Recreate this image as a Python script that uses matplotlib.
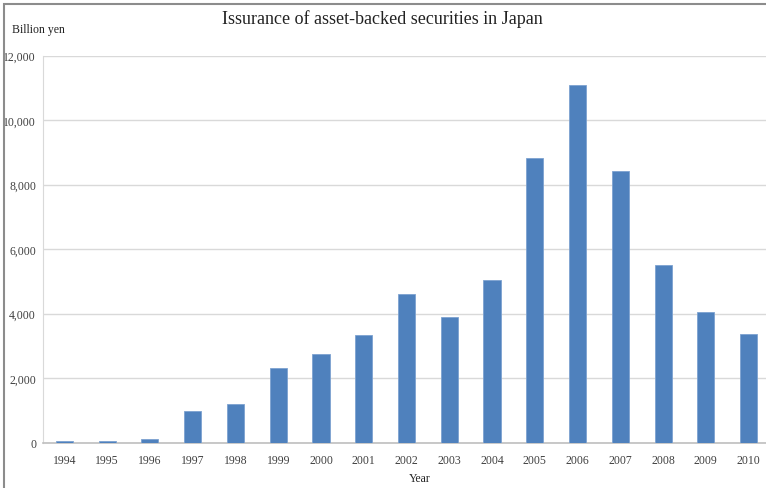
import matplotlib.pyplot as plt
from matplotlib.patches import Rectangle
from matplotlib.ticker import FuncFormatter

# data (billion yen)
years = [str(y) for y in range(1994, 2011)]
issuance = [35, 35, 110, 970, 1200, 2310, 2760, 3320, 4600,
            3880, 5050, 8830, 11090, 8420, 5510, 4060, 3380]

plt.rcParams['font.family'] = ['Liberation Serif', 'DejaVu Serif']

fig = plt.figure(figsize=(7.66, 4.89), dpi=100)
ax = fig.add_axes([43/766, 45.5/489, 727/766, 0.791])

x = range(len(years))
ax.bar(x, issuance, width=0.4, color='#4F81BD', edgecolor='#7DA2D0', linewidth=0.6, zorder=3)

ax.set_xlim(-0.5, len(years) - 0.5)
ax.set_ylim(0, 12000)
ax.set_yticks(range(0, 12001, 2000))
ax.yaxis.set_major_formatter(FuncFormatter(lambda v, p: f"{int(v):,}"))
ax.set_xticks(list(x))
ax.set_xticklabels(years)
ax.tick_params(axis='both', length=0, labelsize=8.5, colors='#404040')
ax.tick_params(axis='x', pad=8)
ax.tick_params(axis='y', pad=5)

ax.grid(axis='y', color='#D9D9D9', linewidth=1.0, zorder=0)
for s in ['top', 'right']:
    ax.spines[s].set_visible(False)
ax.spines['left'].set_color('#D9D9D9')
ax.spines['bottom'].set_color('#BFBFBF')
ax.spines['bottom'].set_linewidth(1.2)

fig.text(382/766, 1 - 19/489, 'Issurance of asset-backed securities in Japan',
         ha='center', va='center', fontsize=13, color='#222222')
fig.text(12/766, 1 - 30/489, 'Billion yen', ha='left', va='center',
         fontsize=8.5, color='#222222')
fig.text(420/766, 1 - 479/489, 'Year', ha='center', va='center',
         fontsize=8.5, color='#222222')

# outer frame of the original picture (cut off at right and bottom)
fig.patches.append(Rectangle((4/766, -0.1), 1.2, 1 - 5/489 + 0.1,
                             transform=fig.transFigure, fill=False,
                             edgecolor='#8C8C8C', linewidth=1.5))

fig.savefig('out.png', dpi=100)
